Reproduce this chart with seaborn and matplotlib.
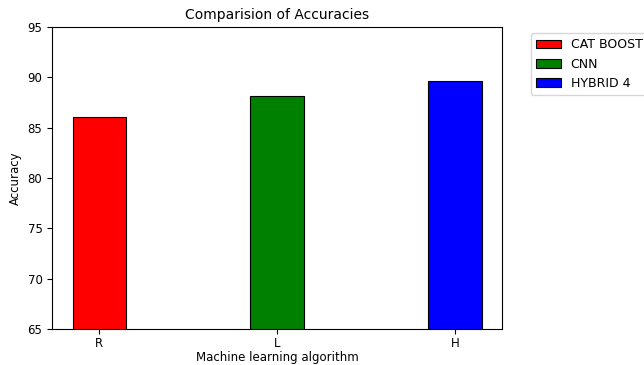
import matplotlib
matplotlib.use("Agg")
import matplotlib.pyplot as plt
import seaborn as sns
import pandas as pd

categories = ["R", "L", "H"]
models = ["CAT BOOST", "CNN", "HYBRID 4"]
accuracy = [86.1, 88.1, 89.6]
colors = ["red", "green", "blue"]

df = pd.DataFrame({"alg": categories, "model": models, "acc": accuracy})

plt.rcParams['font.family'] = ['DejaVu Sans']
fig = plt.figure(figsize=(6.44, 3.65), dpi=100)
ax = fig.add_axes([0.081, 0.0986, 0.6985, 0.8274])

sns.barplot(data=df, x="alg", y="acc", hue="model", palette=colors,
            saturation=1, dodge=False, width=0.3, edgecolor="black",
            linewidth=0.8, ax=ax)

ax.set_xlim(-0.265, 2.265)
ax.set_ylim(65, 95)
ax.set_yticks([65, 70, 75, 80, 85, 90, 95])
ax.tick_params(labelsize=8.5)
ax.tick_params(axis="x", pad=2)
ax.set_title("Comparision of Accuracies", fontsize=10)
ax.set_xlabel("Machine learning algorithm", fontsize=8.5, labelpad=1)
ax.set_ylabel("Accuracy", fontsize=8.5)
ax.legend(loc="upper left", bbox_to_anchor=(1.05, 1), fontsize=9)

fig.savefig("out.png", dpi=100)
